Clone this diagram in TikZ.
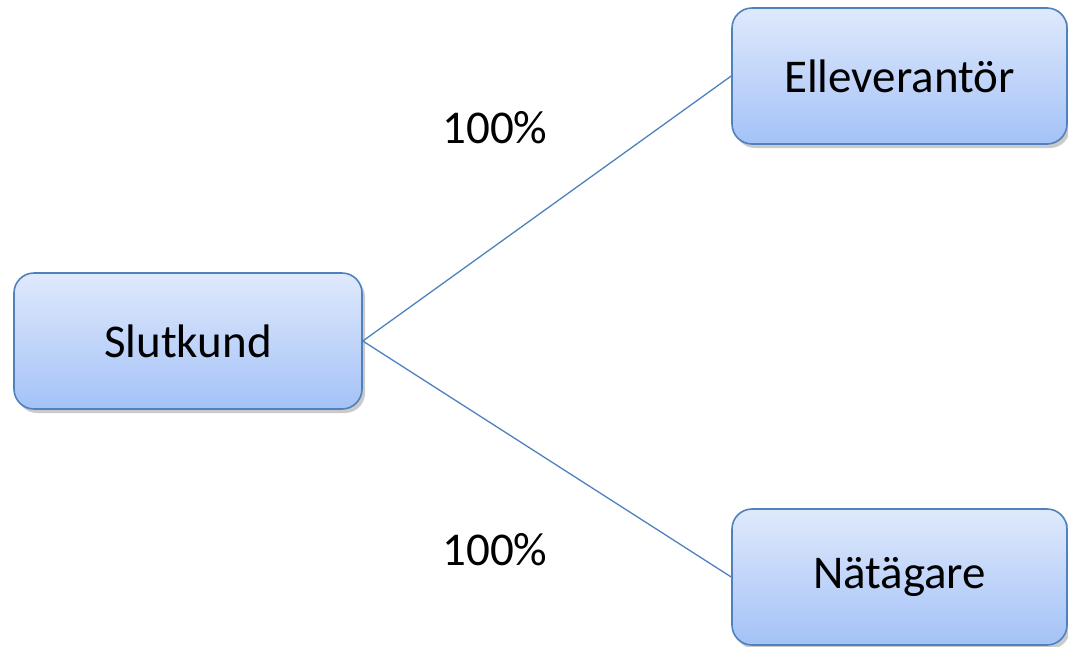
\documentclass[tikz,border=0pt]{standalone}
\usepackage{fontspec}
\setmainfont{Carlito}
\usetikzlibrary{positioning,shadows}
\definecolor{boxline}{HTML}{4F81BD}
\definecolor{boxtop}{HTML}{DFE9FC}
\definecolor{boxbottom}{HTML}{A4C2F7}
\tikzset{party/.style={rectangle,rounded corners=20pt,draw=boxline,line width=1.6pt,
    top color=boxtop,bottom color=boxbottom,minimum width=348pt,minimum height=136pt,
    font=\fontsize{47}{56}\selectfont,
    drop shadow={shadow xshift=3pt,shadow yshift=-4pt,opacity=0.35,fill=black!60}},
  share/.style={font=\fontsize{47}{56}\selectfont}}

\begin{document}
\begin{tikzpicture}[x=1pt,y=-1pt]
\useasboundingbox (0,0) rectangle (1068,646);
\node (kund) [party] at (188,341) {Slutkund};
\node (lev) [party,minimum width=335pt] at (899.5,76) {Elleverantör};
\node (nat) [party,minimum width=335pt] at (899.5,577) {Nätägare};
%
\node (p1) [share] at (495,128) {100\%};
\node (p2) [share] at (495,550) {100\%};
%
\draw[boxline,line width=1.3pt] (kund.east) -- (lev.west);
\draw[boxline,line width=1.3pt] (kund.east) -- (nat.west);
\end{tikzpicture}
\end{document}
